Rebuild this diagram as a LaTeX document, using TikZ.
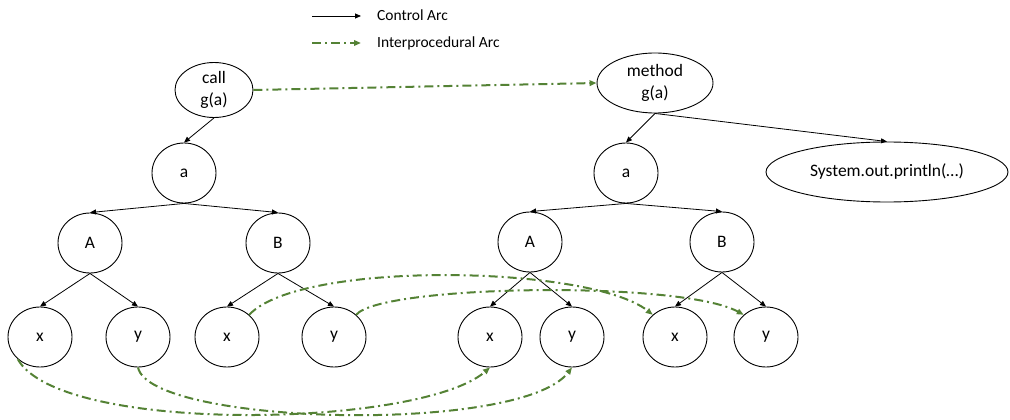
\documentclass[tikz,border=0pt]{standalone}
\usepackage{fontspec}
\setmainfont{Carlito}
\usetikzlibrary{shapes.geometric,arrows.meta}
\definecolor{arcgreen}{HTML}{548235}
\begin{document}
\begin{tikzpicture}[x=1pt,y=-1pt,
  every node/.style={font=\fontsize{17.5}{22}\selectfont},
  el/.style={draw, ellipse, line width=0.9pt, inner sep=0pt, minimum width=64pt, minimum height=60pt, align=center},
  ctrl/.style={-{Triangle[length=6pt,width=5pt]}, line width=0.8pt},
  inter/.style={-{Triangle[length=7pt,width=5.5pt]}, line width=2pt, draw=arcgreen, color=arcgreen, dash pattern=on 9pt off 4pt on 2pt off 4pt},
  lbl/.style={anchor=west, inner sep=0pt, font=\fontsize{15.5}{18}\selectfont}]
\useasboundingbox (0,0) rectangle (1010,420);

% legend
\coordinate (c1s) at (312,16);
\coordinate (c1e) at (361,16);
\draw[ctrl] (c1s) -- (c1e);
\node[lbl] (l1) at (377,15) {Control Arc};
\coordinate (c2s) at (312,43);
\coordinate (c2e) at (361,43);
\draw[inter] (c2s) -- (c2e);
\node[lbl] (l2) at (377,43) {Interprocedural Arc};

% top level
\node[el, minimum width=78pt, minimum height=55pt] (call) at (214,90) {call\\g(a)};
\node[el, minimum width=116pt, minimum height=60pt] (method) at (655,83) {method\\g(a)};

% second level
\node[el] (a1) at (184,173) {a};
\node[el] (a2) at (626,173) {a};
\node[el, minimum width=242pt] (sys) at (887,172) {System.out.println(…)};

% third level
\node[el] (A1) at (90,243) {A};
\node[el] (B1) at (278,243) {B};
\node[el] (A2) at (530,242) {A};
\node[el] (B2) at (722,242) {B};

% leaves
\node[el] (x1) at (40,337) {x};
\node[el] (y1) at (138,337) {y};
\node[el] (x2) at (227,337) {x};
\node[el] (y2) at (334,337) {y};
\node[el] (x3) at (490,337) {x};
\node[el] (y3) at (572,337) {y};
\node[el] (x4) at (675,337) {x};
\node[el] (y4) at (766,337) {y};

% control arcs
\draw[ctrl] (call.south) -- (a1.north);
\draw[ctrl] (method.south) -- (a2.north);
\draw[ctrl] (method.south) -- (sys.north);
\draw[ctrl] (a1.south) -- (A1.north);
\draw[ctrl] (a1.south) -- (B1.north);
\draw[ctrl] (a2.south) -- (A2.north);
\draw[ctrl] (a2.south) -- (B2.north);
\draw[ctrl] (A1.south) -- (x1.north);
\draw[ctrl] (A1.south) -- (y1.north);
\draw[ctrl] (B1.south) -- (x2.north);
\draw[ctrl] (B1.south) -- (y2.north);
\draw[ctrl] (A2.south) -- (x3.north);
\draw[ctrl] (A2.south) -- (y3.north);
\draw[ctrl] (B2.south) -- (x4.north);
\draw[ctrl] (B2.south) -- (y4.north);

% interprocedural arcs
\draw[inter] (call.east) -- (method.west);
\draw[inter] (x1.225) .. controls (60,435) and (420,428) .. (x3.south);
\draw[inter] (y1.south) .. controls (150,425) and (520,435) .. (y3.south);
\draw[inter] (x2.45) .. controls (300,260) and (590,265) .. (x4.135);
\draw[inter] (y2.45) .. controls (380,285) and (680,280) .. (y4.135);
\end{tikzpicture}
\end{document}
